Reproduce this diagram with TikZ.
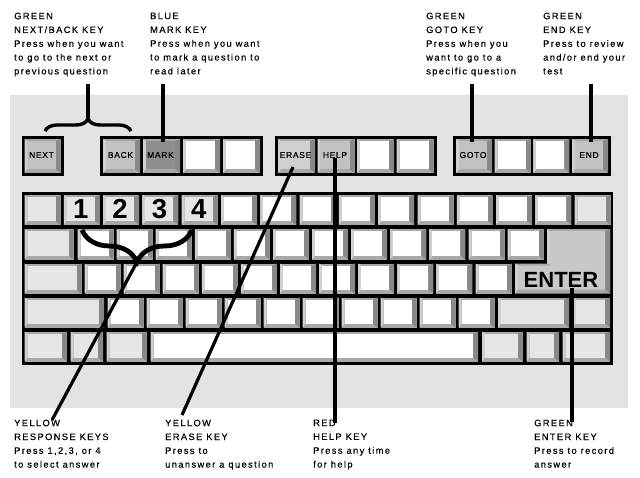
\documentclass[tikz,border=0pt]{standalone}
\usepackage{fontspec}
\setmainfont{Liberation Sans}
\newfontfamily\descfont[LetterSpace=15,FakeBold=0.4]{Liberation Sans}
\newfontfamily\keyfont[LetterSpace=8,FakeBold=0.6]{Liberation Sans}
\usetikzlibrary{decorations.pathreplacing,calc}
\definecolor{bgray}{HTML}{E3E3E3}
\definecolor{kgray}{HTML}{E6E6E6}
\definecolor{kbot}{HTML}{A8A8A8}
\definecolor{kright}{HTML}{888888}
\definecolor{kleft}{HTML}{D0D0D0}
\definecolor{fgray}{HTML}{C2C2C2}
\definecolor{fdark}{HTML}{8E8E8E}
\definecolor{fent}{HTML}{C8C8C8}
\tikzset{
  conn/.style={line width=3.2pt, line cap=butt},
  curly/.style={decorate, decoration={brace, amplitude=#1}, line width=3.4pt},
  desc/.style={font=\descfont\fontsize{9.3}{13.8}\selectfont, align=left, inner sep=0pt, anchor=north west},
  keylab/.style={font=\keyfont\fontsize{8.5}{9}\selectfont, inner sep=0pt, outer sep=0pt},
  digit/.style={font=\bfseries\fontsize{27.5}{27.5}\selectfont, inner sep=0pt},
  entertext/.style={font=\bfseries\fontsize{22}{22}\selectfont, inner sep=0pt},
}
\newcommand\Key[7]{%
  \fill[kbot] (#2,#3) rectangle (#4,#5);
  \fill[kright] (#4,#3) -- (#4,#5) -- ({#4-5},{#5-4}) -- ({#4-5},{#3+2}) -- cycle;
  \fill[kleft] (#2,#3) -- ({#2+3},{#3+2}) -- ({#2+3},{#5-4}) -- (#2,#5) -- cycle;
  \fill[#6] ({#2+3},{#3+2}) rectangle ({#4-5},{#5-4});
  \node[keylab, minimum width={(#4-(#2))*1pt}, minimum height={(#5-(#3))*1pt}] (#1) at ({(#2+#4)/2-1},{(#3+#5)/2-1}) {#7};
}
\begin{document}
\begin{tikzpicture}[x=1pt,y=-1pt]
\useasboundingbox (0,0) rectangle (640,477);
\fill[white] (0,0) rectangle (640,477);
\fill[bgray] (10,95) rectangle (628,408);

% function key groups
\fill[black] (21.5,136) rectangle (63.5,176);
\Key{next}{24.5}{139}{60.5}{173}{fgray}{NEXT}
\fill[black] (100,136) rectangle (263,176);
\Key{back}{103}{139}{140}{173}{fgray}{BACK}
\Key{mark}{143}{139}{180}{173}{fdark}{MARK}
\Key{f3}{183}{139}{220}{173}{white}{}
\Key{f4}{223}{139}{260}{173}{white}{}
\fill[black] (275,136) rectangle (436.5,176);
\Key{erase}{278}{139}{315}{173}{kleft}{ERASE}
\Key{help}{317.5}{139}{354.5}{173}{fgray}{HELP}
\Key{f7}{357}{139}{394}{173}{white}{}
\Key{f8}{396.5}{139}{433.5}{173}{white}{}
\fill[black] (453,136) rectangle (611,176);
\Key{goto}{456}{139}{492}{173}{fgray}{GOTO}
\Key{f10}{494.7}{139}{530.7}{173}{white}{}
\Key{f11}{533.4}{139}{569.4}{173}{white}{}
\Key{end}{572}{139}{608}{173}{fgray}{END}

% main block
\fill[black] (21.5,192) rectangle (613,364.5);
% row 1
\foreach \i/\c in {0/kgray,1/kgray,2/kgray,3/kgray,4/kgray,5/white,6/white,7/white,8/white,9/white,10/white,11/white,12/white,13/white,14/kgray}{
  \pgfmathsetmacro\xa{24.5+\i*39.3}
  \Key{ra\i}{\xa}{195}{\xa+36}{225}{\c}{}
}
% row 2
\Key{tab}{24.5}{229}{73.5}{259.5}{kgray}{}
\foreach \i in {0,...,11}{
  \pgfmathsetmacro\xa{77.5+\i*39.1}
  \Key{rb\i}{\xa}{229}{\xa+36}{259.5}{white}{}
}
% row 3
\Key{caps}{24.5}{263.5}{81.5}{293.5}{kgray}{}
\foreach \i in {0,...,10}{
  \pgfmathsetmacro\xa{84.5+\i*39.1}
  \Key{rc\i}{\xa}{263.5}{\xa+36}{293.5}{white}{}
}
% enter (L shape)
\fill[kbot] (547,229) -- (610,229) -- (610,293.5) -- (515,293.5) -- (515,263.5) -- (547,263.5) -- cycle;
\fill[kright] (610,229) -- (610,293.5) -- (605,289.5) -- (605,231) -- cycle;
\fill[kleft] (547,229) -- (550,231) -- (550,263.5) -- (547,263.5) -- cycle;
\fill[kleft] (515,263.5) -- (518,265.5) -- (518,289.5) -- (515,293.5) -- cycle;
\fill[fent] (550,231) -- (605,231) -- (605,289.5) -- (518,289.5) -- (518,265.5) -- (550,265.5) -- cycle;
\node[entertext] (enter) at (561,280) {ENTER};
% row 4
\Key{shift}{24.5}{297.5}{104}{327.5}{kgray}{}
\foreach \i in {0,...,9}{
  \pgfmathsetmacro\xa{107.5+\i*39}
  \Key{rd\i}{\xa}{297.5}{\xa+36}{327.5}{white}{}
}
\Key{rshift}{498}{297.5}{569}{327.5}{kgray}{}
\Key{rd11}{573}{297.5}{610}{327.5}{kgray}{}
% row 5
\Key{re0}{24.5}{331.5}{67}{361.5}{kgray}{}
\Key{re1}{70.5}{331.5}{103}{361.5}{kgray}{}
\Key{re2}{106.5}{331.5}{147}{361.5}{kgray}{}
\Key{space}{150.5}{331.5}{478}{361.5}{white}{}
\Key{re4}{482}{331.5}{523}{361.5}{kgray}{}
\Key{re5}{526.5}{331.5}{559}{361.5}{kgray}{}
\Key{re6}{562.5}{331.5}{610}{361.5}{kgray}{}

% digits
\node[digit] (d1) at (ra1.center) {1};
\node[digit] (d2) at (ra2.center) {2};
\node[digit] (d3) at (ra3.center) {3};
\node[digit] (d4) at (ra4.center) {4};

% texts
\node[desc] (tA) at (14,12.5) {GREEN\\NEXT/BACK KEY\\Press when you want\\to go to the next or\\previous question};
\node[desc] (tB) at (150,12.5) {BLUE\\MARK KEY\\Press when you want\\to mark a question to\\read later};
\node[desc] (tC) at (426,12.5) {GREEN\\GOTO KEY\\Press when you\\want to go to a\\specific question};
\node[desc] (tD) at (543,12.5) {GREEN\\END KEY\\Press to review\\and/or end your\\test};
\node[desc] (tE) at (14,419.5) {YELLOW\\RESPONSE KEYS\\Press 1,2,3, or 4\\to select answer};
\node[desc] (tF) at (165,419.5) {YELLOW\\ERASE KEY\\Press to\\unanswer a question};
\node[desc] (tG) at (313,419.5) {RED\\HELP KEY\\Press any time\\for help};
\node[desc] (tH) at (534,419.5) {GREEN\\ENTER KEY\\Press to record\\answer};

% connectors
\coordinate (nbTop) at (88,84);
\coordinate (nbTip) at (88,119);
\coordinate (nbL) at (45,131);
\coordinate (nbR) at (131,131);
\draw[conn] (nbTop) -- (nbTip);
\draw[curly=12] (nbL) -- (nbR);

\coordinate (mkTop) at (163,84);
\draw[conn, shorten >=-4pt] (mkTop) -- (mkTop |- mark.north);
\coordinate (gtTop) at (472,84);
\draw[conn, shorten >=-4pt] (gtTop) -- (gtTop |- goto.north);
\coordinate (edTop) at (591,84);
\draw[conn, shorten >=-4pt] (edTop) -- (edTop |- end.north);

\coordinate (erA) at (293,167);
\coordinate (erB) at (182,415);
\draw[conn] (erA) -- (erB);

\coordinate (hpA) at (335,158);
\coordinate (hpB) at (335,423);
\draw[conn] (hpA) -- (hpB);

\coordinate (enB) at (572,422);
\draw[conn] (enB |- enter.south) -- (enB);

\coordinate (rsL) at (82,230);
\coordinate (rsR) at (192,230);
\coordinate (rsTip) at (137,262);
\coordinate (rsEnd) at (52,420);
\draw[curly=32, line width=4.8pt] (rsR) -- (rsL);
\draw[conn] (rsTip) -- (rsEnd);
\end{tikzpicture}
\end{document}
